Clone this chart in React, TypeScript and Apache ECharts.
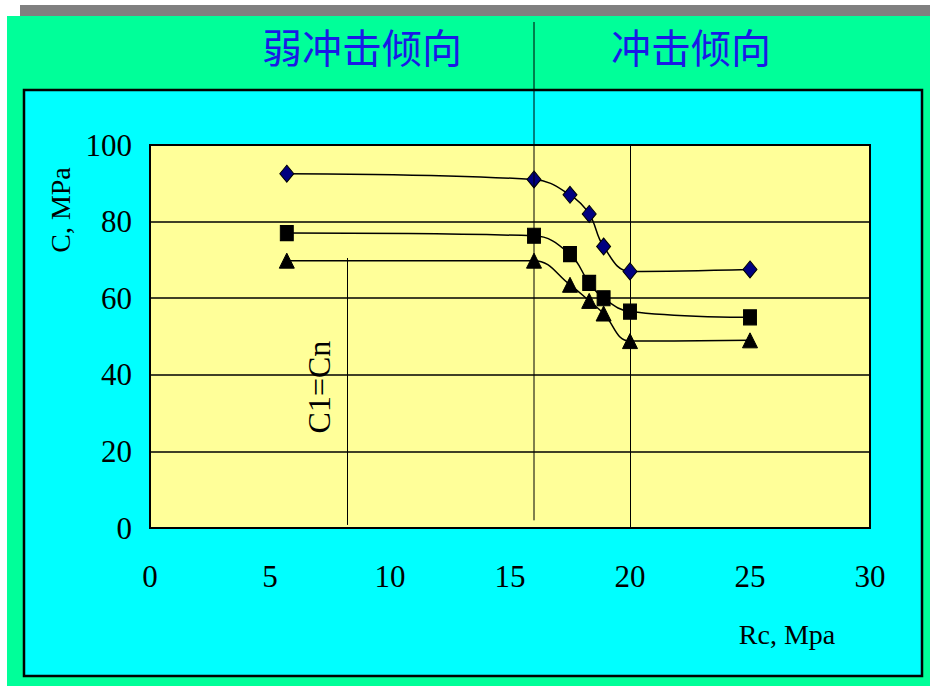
import React, { useEffect, useRef } from "react";
import * as echarts from "echarts";

const xValues = [5.7, 16, 17.5, 18.3, 18.9, 20, 25];
const diamondValues = [92.5, 91, 87, 82, 73.5, 67, 67.5];
const squareValues = [77, 76.3, 71.5, 64, 60, 56.5, 55];
const triangleValues = [69.8, 69.8, 63.5, 59.3, 56, 48.8, 49];
const xTicks = [0, 5, 10, 15, 20, 25, 30];
const yTicks = [0, 20, 40, 60, 80, 100];
const regionLabels = ["弱冲击倾向", "冲击倾向"];
const boundaryX = 16;
const rightLineX = 20;
const c1LineX = 8.2;
const c1LineTop = 70.5;
const c1Label = "C1=Cn";
const xAxisName = "Rc, Mpa";
const yAxisName = "C, MPa";

const SERIF = "'Liberation Serif', 'DejaVu Serif', serif";
const CJK = "'Noto Sans CJK SC', sans-serif";

export default function App() {
  const ref = useRef<HTMLDivElement>(null);
  useEffect(() => {
    document.body.style.margin = "0";
    if (!ref.current) return;
    const chart = echarts.init(ref.current, null, { renderer: "svg" });
    const pts = (ys: number[]) => xValues.map((x, i) => [x, ys[i]]);
    const lineStyle = { color: "#000", width: 1.5 };
    chart.setOption({
      animation: false,
      backgroundColor: "#ffffff",
      grid: {
        left: 150,
        top: 145,
        width: 720,
        height: 383,
        show: true,
        backgroundColor: "#FFFF99",
        borderColor: "#000",
        borderWidth: 2,
      },
      xAxis: {
        type: "value",
        min: xTicks[0],
        max: xTicks[xTicks.length - 1],
        interval: 5,
        axisLine: { show: false },
        axisTick: { show: false },
        splitLine: { show: false },
        axisLabel: { fontFamily: SERIF, fontSize: 31, color: "#000", margin: 33 },
      },
      yAxis: {
        type: "value",
        min: yTicks[0],
        max: yTicks[yTicks.length - 1],
        interval: 20,
        axisLine: { show: false },
        axisTick: { show: false },
        splitLine: { show: true, lineStyle: { color: "#000", width: 1.5 } },
        axisLabel: { fontFamily: SERIF, fontSize: 31, color: "#000", margin: 18 },
      },
      series: [
        {
          type: "line",
          data: pts(diamondValues),
          smooth: 0.4,
          symbol: "diamond",
          symbolSize: [14, 17],
          itemStyle: { color: "#000080", borderColor: "#000", borderWidth: 1 },
          lineStyle,
          z: 5,
          markLine: {
            silent: true,
            symbol: "none",
            label: { show: false },
            lineStyle: { color: "#000", width: 1, type: "solid" },
            data: [
              [{ coord: [rightLineX, 100] }, { coord: [rightLineX, 0] }],
              [{ coord: [c1LineX, c1LineTop] }, { coord: [c1LineX, 0.8] }],
            ],
          },
        },
        {
          type: "line",
          data: pts(squareValues),
          smooth: 0.4,
          symbol: "rect",
          symbolSize: [13, 15],
          itemStyle: { color: "#000", borderColor: "#000" },
          lineStyle,
          z: 4,
        },
        {
          type: "line",
          data: pts(triangleValues),
          smooth: 0.4,
          symbol: "triangle",
          symbolSize: [15, 15],
          itemStyle: { color: "#000", borderColor: "#000" },
          lineStyle,
          z: 4,
        },
      ],
    });

    const bx = chart.convertToPixel({ xAxisIndex: 0 }, boundaryX) as number;
    const bBottom = chart.convertToPixel({ yAxisIndex: 0 }, 2) as number;
    const lblX = chart.convertToPixel({ xAxisIndex: 0 }, 7.05) as number;
    const lblY = chart.convertToPixel({ yAxisIndex: 0 }, 36.8) as number;

    chart.setOption({
      graphic: [
        { type: "rect", z: -10, silent: true, shape: { x: 20, y: 5, width: 910, height: 11 }, style: { fill: "#808080" } },
        { type: "rect", z: -10, silent: true, shape: { x: 7, y: 16, width: 923, height: 670 }, style: { fill: "#00FF99" } },
        {
          type: "rect", z: -9, silent: true,
          shape: { x: 24, y: 90, width: 898, height: 586 },
          style: { fill: "#00FFFF", stroke: "#000", lineWidth: 2.5 },
        },
        {
          type: "line", z: 10, silent: true,
          shape: { x1: bx, y1: 22, x2: bx, y2: bBottom },
          style: { stroke: "#000", lineWidth: 1 },
        },
        {
          type: "text", z: 10, x: 362, y: 46,
          style: { text: regionLabels[0], font: `40px ${CJK}`, fill: "#1a1ae6", align: "center", verticalAlign: "middle" },
        },
        {
          type: "text", z: 10, x: 691, y: 46,
          style: { text: regionLabels[1], font: `40px ${CJK}`, fill: "#1a1ae6", align: "center", verticalAlign: "middle" },
        },
        {
          type: "text", z: 10, x: 787, y: 634,
          style: { text: xAxisName, font: `28px ${SERIF}`, fill: "#000", align: "center", verticalAlign: "middle" },
        },
        {
          type: "text", z: 10, x: 60, y: 210, rotation: Math.PI / 2,
          style: { text: yAxisName, font: `28px ${SERIF}`, fill: "#000", align: "center", verticalAlign: "middle" },
        },
        {
          type: "text", z: 10, x: lblX, y: lblY, rotation: Math.PI / 2,
          style: { text: c1Label, font: `32px ${SERIF}`, fill: "#000", align: "center", verticalAlign: "middle" },
        },
      ],
    });

    return () => chart.dispose();
  }, []);
  return <div ref={ref} style={{ width: 930, height: 686 }} />;
}
